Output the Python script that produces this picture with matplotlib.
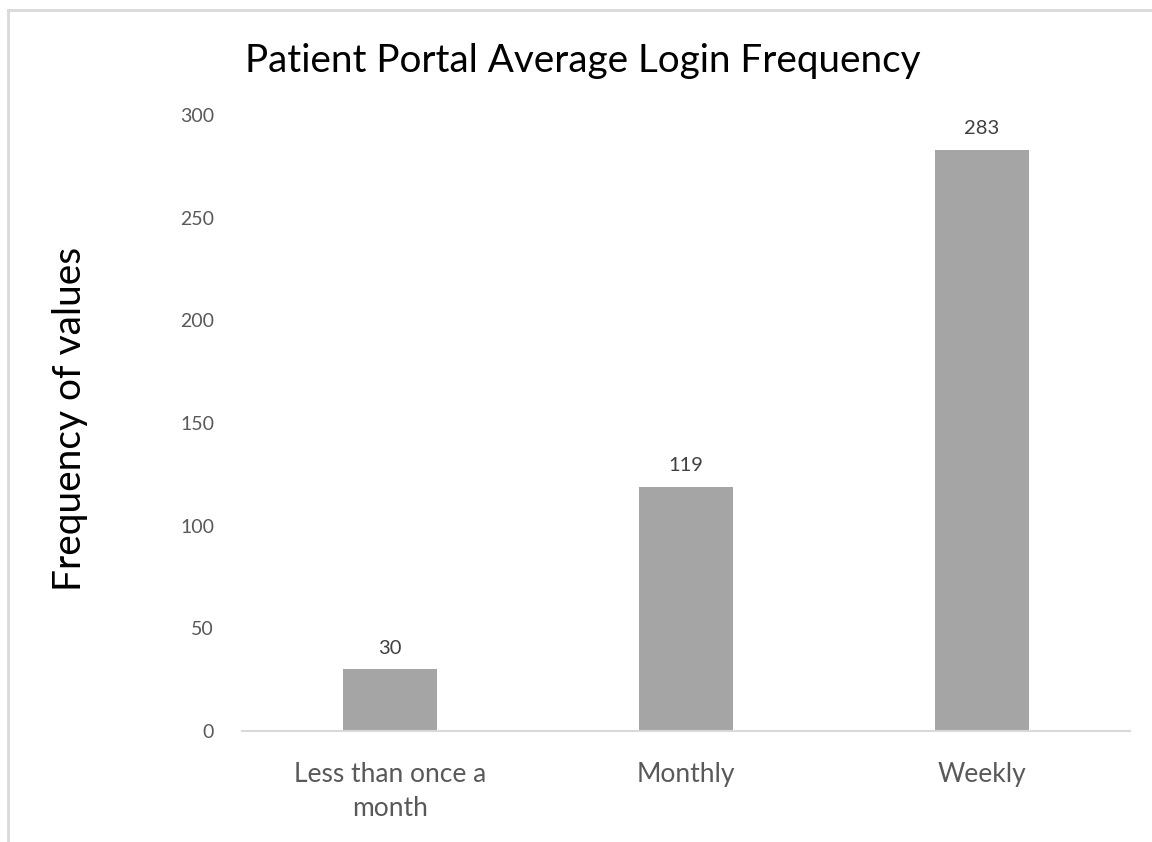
import matplotlib.pyplot as plt
from matplotlib.lines import Line2D

categories = ["Less than once a\nmonth", "Monthly", "Weekly"]
counts = [30, 119, 283]
yticks = [0, 50, 100, 150, 200, 250, 300]

plt.rcParams['font.family'] = ['Lato', 'DejaVu Sans']

fig = plt.figure(figsize=(11.52, 8.42), dpi=100)
ax = fig.add_axes([0.210, 0.1318, 0.771, 0.7316])

x = range(len(categories))
bars = ax.bar(x, counts, width=0.315, color="#A5A5A5", zorder=2)
for xi, v in zip(x, counts):
    ax.annotate(str(v), (xi, v), xytext=(0, 9), textcoords="offset points",
                ha="center", va="bottom", fontsize=14.5, color="#404040")

ax.set_xlim(-0.5, 2.5)
ax.set_ylim(0, 300)
ax.set_yticks(yticks)
ax.set_xticks(list(x))
ax.set_xticklabels(categories, fontsize=19, color="#595959", linespacing=1.45)
ax.tick_params(axis="y", length=0, pad=20, labelsize=14, labelcolor="#595959")
ax.tick_params(axis="x", length=0, pad=22)
for s in ["top", "right", "left"]:
    ax.spines[s].set_visible(False)
ax.spines["bottom"].set_color("#D9D9D9")
ax.spines["bottom"].set_linewidth(1.5)

fig.text(0.506, 0.928, "Patient Portal Average Login Frequency", ha="center", va="center",
         fontsize=27.8, color="#000000")
fig.text(0.061, 0.502, "Frequency of values", ha="center", va="center", rotation=90,
         fontsize=28, color="#000000")

# outer chart border (top and left visible)
fig.add_artist(Line2D([8 / 1152, 1.0], [1 - 10 / 842, 1 - 10 / 842], color="#D9D9D9", linewidth=2))
fig.add_artist(Line2D([8 / 1152, 8 / 1152], [0, 1 - 10 / 842], color="#D9D9D9", linewidth=2))

fig.savefig("out.png", dpi=100)
